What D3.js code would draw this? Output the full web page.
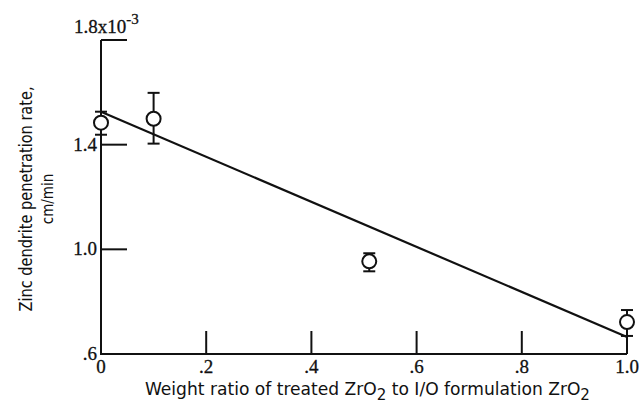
<!DOCTYPE html>
<html><head><meta charset="utf-8">
<script src="https://cdn.jsdelivr.net/npm/d3@7/dist/d3.min.js"></script>
<style>body{margin:0;background:#fff}svg{display:block}</style>
</head><body>
<script>
// ---- data ----
const weightRatio = [0, 0.1, 0.51, 1.0];
const penetrationRate = [1.484, 1.499, 0.954, 0.722];
const errorHigh = [1.526, 1.598, 0.985, 0.768];
const errorLow = [1.438, 1.404, 0.916, 0.669];
const fitX = [0, 1.0];
const fitY = [1.526, 0.665];
const xTicks = [0, 0.2, 0.4, 0.6, 0.8, 1.0];
const xTickLabels = ["0", ".2", ".4", ".6", ".8", "1.0"];
const yTicks = [0.6, 1.0, 1.4, 1.8];
const yTickLabels = [".6", "1.0", "1.4", "1.8x10"];
const yTitle = ["Zinc dendrite penetration rate,", "cm/min"];

const W = 644, H = 412;
const svg = d3.select("body").append("svg").attr("width", W).attr("height", H);
const x = d3.scaleLinear().domain([0, 1]).range([101, 627]);
const y = d3.scaleLinear().domain([0.6, 1.8]).range([354, 40]);
const ink = "#111";
const serif = "Liberation Serif, serif";
const sans = "Liberation Sans Narrow, DejaVu Sans Condensed, sans-serif";

// axes
svg.append("path").attr("d", `M${x(0)},${y(1.8)}V${y(0.6)}H${x(1)}`)
  .attr("fill", "none").attr("stroke", ink).attr("stroke-width", 2);
// x ticks (inward, upward)
svg.selectAll(".xt").data(xTicks.filter(d => d > 0)).enter().append("line")
  .attr("x1", d => x(d)).attr("x2", d => x(d))
  .attr("y1", y(0.6)).attr("y2", y(0.6) - 23)
  .attr("stroke", ink).attr("stroke-width", 2);
// y ticks (inward, rightward)
svg.selectAll(".yt").data(yTicks.filter(d => d > 0.6)).enter().append("line")
  .attr("x1", x(0)).attr("x2", x(0) + 26)
  .attr("y1", d => y(d)).attr("y2", d => y(d))
  .attr("stroke", ink).attr("stroke-width", 2);

// x tick labels
svg.selectAll(".xl").data(xTicks).enter().append("text")
  .attr("x", d => x(d)).attr("y", y(0.6) + 19)
  .attr("text-anchor", "middle")
  .attr("font-family", serif).attr("font-size", 19)
  .attr("fill", ink).attr("stroke", ink).attr("stroke-width", 0.3)
  .text((d, i) => xTickLabels[i]);

// y tick labels
yTicks.forEach((d, i) => {
  const t = svg.append("text")
    .attr("y", y(d) + 6)
    .attr("font-family", serif).attr("font-size", 19)
    .attr("fill", ink).attr("stroke", ink).attr("stroke-width", 0.3);
  if (i === yTicks.length - 1) {
    t.attr("x", 74).attr("y", y(d) - 7).attr("text-anchor", "start");
    t.append("tspan").text(yTickLabels[i]);
    t.append("tspan").attr("dy", -9).attr("font-size", 15).text("-3");
  } else {
    t.attr("x", x(0) - 4).attr("text-anchor", "end").text(yTickLabels[i]);
  }
});

// y title
const yt = svg.append("g").attr("transform", `translate(0,${y(1.2) + 2}) rotate(-90)`);
yt.append("text").attr("x", 0).attr("y", 32).attr("text-anchor", "middle")
  .attr("font-family", sans).attr("font-size", 17).attr("fill", ink)
  .attr("textLength", 225).attr("lengthAdjust", "spacingAndGlyphs")
  .text(yTitle[0]);
yt.append("text").attr("x", 0).attr("y", 53).attr("text-anchor", "middle")
  .attr("font-family", sans).attr("font-size", 15).attr("fill", ink)
  .text(yTitle[1]);

// x title
const xt = svg.append("text").attr("x", 145).attr("y", 395)
  .attr("text-anchor", "start")
  .attr("font-family", sans).attr("font-size", 17).attr("fill", ink)
  .attr("textLength", 445).attr("lengthAdjust", "spacingAndGlyphs");
xt.append("tspan").text("Weight ratio of treated ZrO");
xt.append("tspan").attr("dy", 5).attr("font-size", 15).text("2");
xt.append("tspan").attr("dy", -5).text(" to I/O formulation ZrO");
xt.append("tspan").attr("dy", 5).attr("font-size", 15).text("2");

// fit line
svg.append("path")
  .attr("d", d3.line().x(d => x(d[0])).y(d => y(d[1]))(fitX.map((v, i) => [v, fitY[i]])))
  .attr("stroke", ink).attr("stroke-width", 2.2).attr("fill", "none");

// error bars
const pts = weightRatio.map((v, i) => ({x: v, y: penetrationRate[i], hi: errorHigh[i], lo: errorLow[i]}));
const eb = svg.selectAll(".eb").data(pts).enter().append("g");
eb.append("line").attr("x1", d => x(d.x)).attr("x2", d => x(d.x))
  .attr("y1", d => y(d.hi)).attr("y2", d => y(d.lo)).attr("stroke", ink).attr("stroke-width", 2);
eb.append("line").attr("x1", d => x(d.x) - 6).attr("x2", d => x(d.x) + 6)
  .attr("y1", d => y(d.hi)).attr("y2", d => y(d.hi)).attr("stroke", ink).attr("stroke-width", 2);
eb.append("line").attr("x1", d => x(d.x) - 6).attr("x2", d => x(d.x) + 6)
  .attr("y1", d => y(d.lo)).attr("y2", d => y(d.lo)).attr("stroke", ink).attr("stroke-width", 2);
// points
svg.selectAll(".pt").data(pts).enter().append("circle")
  .attr("cx", d => x(d.x)).attr("cy", d => y(d.y)).attr("r", 7)
  .attr("fill", "#fff").attr("stroke", ink).attr("stroke-width", 2);
</script>
</body></html>
